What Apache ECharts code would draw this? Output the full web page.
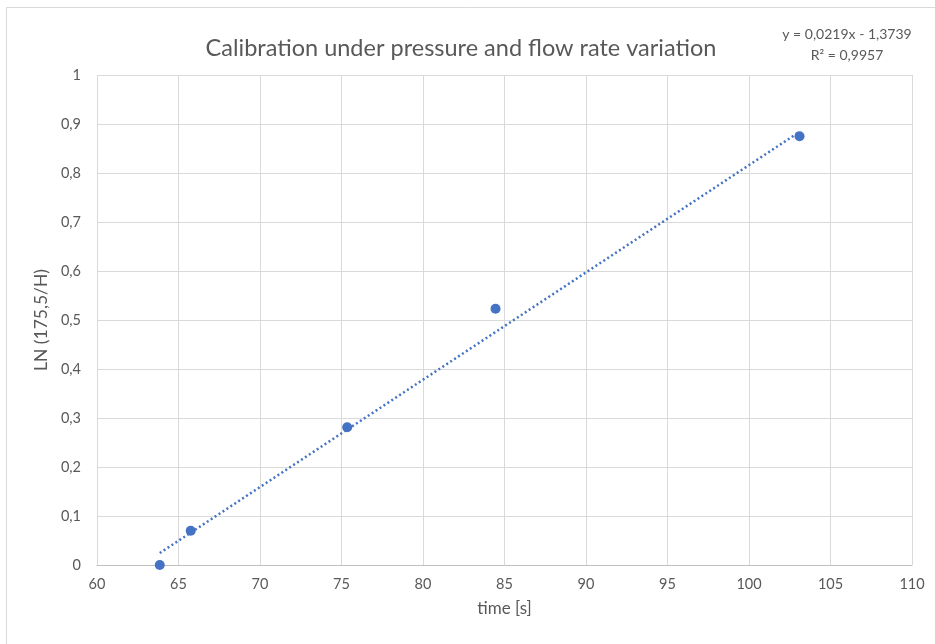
<!DOCTYPE html>
<html>
<head>
<meta charset="utf-8">
<script src="https://cdn.jsdelivr.net/npm/echarts@6/dist/echarts.min.js"></script>
<style>
html,body{margin:0;padding:0;background:#fff;}
#chart{width:935px;height:644px;}
</style>
</head>
<body>
<div id="chart"></div>
<script>
// Data
const timeSec = [63.85, 65.75, 75.35, 84.45, 103.1];
const lnValues = [0.0, 0.07, 0.281, 0.523, 0.875];
// Trendline as printed on the chart
const slope = 0.0219;
const intercept = -1.3739;
const rSquared = '0,9957';
const titleText = 'Calibration under pressure and flow rate variation';
const xName = 'time [s]';
const yName = 'LN (175,5/H)';

const trendX = [Math.min(...timeSec), Math.max(...timeSec)];
const trendData = trendX.map(x => [x, slope * x + intercept]);
const fmt = v => String(v).replace('.', ',');
const FONT = 'Lato, "Open Sans", sans-serif';

const chart = echarts.init(document.getElementById('chart'), null, {renderer: 'canvas'});
chart.setOption({
  animation: false,
  textStyle: {fontFamily: FONT},
  title: {
    text: titleText,
    left: 456, top: 31, textAlign: 'center',
    textStyle: {fontFamily: FONT, fontSize: 23.5, fontWeight: 'normal', color: '#595959'}
  },
  graphic: [
    {type: 'rect', shape: {x: 6.5, y: 7.5, width: 1000, height: 700},
     style: {fill: 'none', stroke: '#d9d9d9', lineWidth: 1}, silent: true, z: -1},
    {type: 'text', x: 847, y: 27, style: {text: 'y = ' + fmt(slope) + 'x - ' + fmt(Math.abs(intercept)),
      align: 'center', verticalAlign: 'top', font: '14px ' + FONT, fill: '#595959'}},
    {type: 'text', x: 847, y: 48, style: {text: 'R² = ' + rSquared,
      align: 'center', verticalAlign: 'top', font: '14px ' + FONT, fill: '#595959'}}
  ],
  grid: {left: 97, right: 23, top: 75, bottom: 79, containLabel: false},
  xAxis: {
    type: 'value', min: 60, max: 110, interval: 5,
    name: xName, nameLocation: 'middle', nameGap: 35,
    nameTextStyle: {fontFamily: FONT, fontSize: 17, color: '#595959'},
    axisLine: {show: true, lineStyle: {color: '#bfbfbf', width: 1}},
    axisTick: {show: false},
    axisLabel: {fontFamily: FONT, fontSize: 14.5, color: '#595959', margin: 12},
    splitLine: {show: true, lineStyle: {color: '#d9d9d9', width: 1}}
  },
  yAxis: {
    type: 'value', min: 0, max: 1, interval: 0.1,
    name: yName, nameLocation: 'middle', nameGap: 43, nameRotate: 90,
    nameTextStyle: {fontFamily: FONT, fontSize: 17.5, color: '#595959'},
    axisLine: {show: false},
    axisTick: {show: false},
    axisLabel: {fontFamily: FONT, fontSize: 14.5, color: '#595959', margin: 16,
      formatter: v => fmt(Math.round(v * 10) / 10)},
    splitLine: {show: true, lineStyle: {color: '#d9d9d9', width: 1}}
  },
  series: [
    {
      type: 'line', data: trendData, showSymbol: false, symbol: 'none',
      lineStyle: {color: '#4472C4', width: 2.5, type: [2, 2.7], cap: 'butt'},
      z: 2
    },
    {
      type: 'scatter', data: timeSec.map((x, i) => [x, lnValues[i]]),
      symbol: 'circle', symbolSize: 10,
      itemStyle: {color: '#4472C4', opacity: 1},
      z: 3
    }
  ]
});
</script>
</body>
</html>
